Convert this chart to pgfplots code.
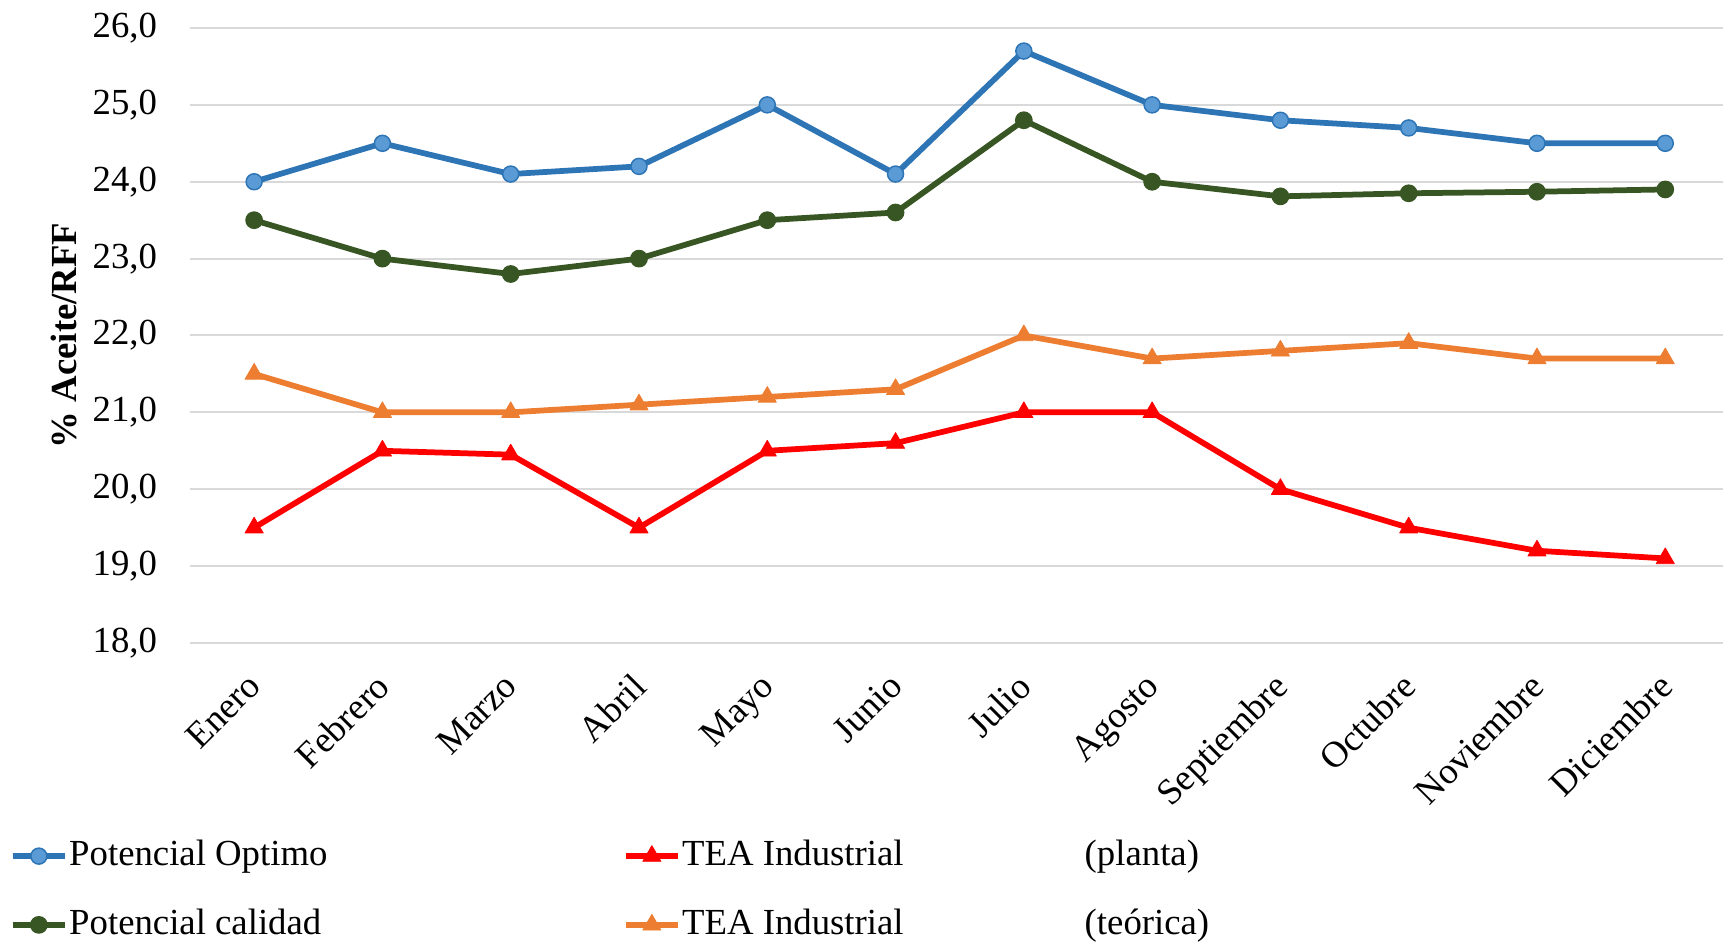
\documentclass[border=0pt]{standalone}
\usepackage{fontspec}
\setmainfont{Liberation Serif}
\usepackage{pgfplots}
\usepackage{pgfplotstable}
\pgfplotsset{compat=1.18}

\definecolor{optline}{HTML}{2E75B6}
\definecolor{optfill}{HTML}{5B9BD5}
\definecolor{calid}{HTML}{375623}
\definecolor{planta}{HTML}{FF0000}
\definecolor{teorica}{HTML}{ED7D31}
\definecolor{gridgray}{HTML}{D9D9D9}

% Monthly oil extraction (% Aceite/RFF)
\pgfplotstableread{
x optimo calidad planta teorica
0  24.0 23.5  19.5  21.5
1  24.5 23.0  20.5  21.0
2  24.1 22.8  20.45 21.0
3  24.2 23.0  19.5  21.1
4  25.0 23.5  20.5  21.2
5  24.1 23.6  20.6  21.3
6  25.7 24.8  21.0  22.0
7  25.0 24.0  21.0  21.7
8  24.8 23.81 20.0  21.8
9  24.7 23.85 19.5  21.9
10 24.5 23.87 19.2  21.7
11 24.5 23.9  19.1  21.7
}\datos

\newcommand{\chartfont}{\fontsize{14.7}{17.6}\selectfont}

\begin{document}
\begin{tikzpicture}[font=\chartfont]
\useasboundingbox (-76pt,-120pt) rectangle (613.2pt,257.2pt);
\begin{axis}[
  at={(0,0)}, anchor=south west,
  scale only axis,
  width=613.2pt, height=246pt,
  xmin=-0.5, xmax=11.45,
  ymin=18, ymax=26,
  ytick={18,19,...,26},
  xtick={0,...,11},
  xticklabels={Enero,Febrero,Marzo,Abril,Mayo,Junio,Julio,Agosto,Septiembre,Octubre,Noviembre,Diciembre},
  axis line style={draw=none},
  major tick length=0pt,
  ymajorgrids,
  grid style={gridgray, line width=0.8pt},
  tick label style={font=\chartfont},
  yticklabel style={anchor=east, inner sep=0pt, xshift=-13pt,
    /pgf/number format/.cd, fixed, fixed zerofill, precision=1, use comma, assume math mode=true},
  xticklabel style={xshift=-3.5pt, rotate=45, anchor=north east, inner sep=0pt},
  xticklabel shift=11pt,
  ylabel={\bfseries\% Aceite/RFF},
  ylabel style={at={(axis description cs:-0.0822,0.5)}, anchor=center, font=\chartfont},
  legend columns=2,
  legend cell align=left,
  legend style={at={(axis description cs:0,0)}, anchor=north west,
    xshift=-72.1pt, yshift=-78pt, draw=none, fill=none,
    inner sep=0pt, outer sep=0pt, row sep=13pt, font=\chartfont,
    nodes={inner sep=0pt, text height=11pt, text depth=3.5pt},
    /tikz/every odd column/.append style={column sep=0.5pt}},
  legend image code/.code={\draw[mark repeat=2,mark phase=2] plot coordinates {(0pt,0pt) (10.5pt,0pt) (21pt,0pt)};},
]
\addplot[optline, line width=2.3pt, line join=round, mark=*, mark size=3.2pt,
  mark options={fill=optfill, draw=optline, line width=0.6pt}]
  table[x=x, y=optimo] {\datos};
\addlegendentry{\makebox[221.4pt][l]{Potencial Optimo}}
\addplot[planta, line width=2.3pt, line join=round, mark=triangle*, mark size=4.2pt,
  mark options={fill=planta, draw=planta, line width=0.3pt}]
  table[x=x, y=planta] {\datos};
\addlegendentry{\makebox[161pt][l]{TEA Industrial}(planta)}
\addplot[calid, line width=2.3pt, line join=round, mark=*, mark size=3.3pt,
  mark options={fill=calid, draw=calid, line width=0.5pt}]
  table[x=x, y=calidad] {\datos};
\addlegendentry{\makebox[221.4pt][l]{Potencial calidad}}
\addplot[teorica, line width=2.3pt, line join=round, mark=triangle*, mark size=4.2pt,
  mark options={fill=teorica, draw=teorica, line width=0.3pt}]
  table[x=x, y=teorica] {\datos};
\addlegendentry{\makebox[161pt][l]{TEA Industrial}(teórica)}
\end{axis}
\end{tikzpicture}
\end{document}
